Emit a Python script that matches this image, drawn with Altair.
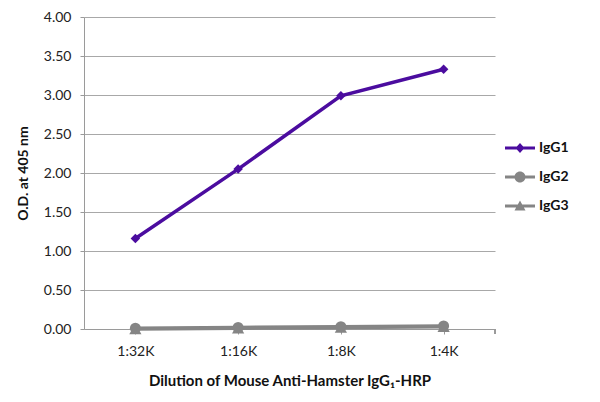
import altair as alt
import pandas as pd

dilutions = ["1:32K", "1:16K", "1:8K", "1:4K"]
series_names = ["IgG1", "IgG2", "IgG3"]
igg1 = [1.16, 2.05, 2.99, 3.33]
igg2 = [0.01, 0.02, 0.03, 0.04]
igg3 = [0.00, 0.01, 0.02, 0.03]
colors = ["#4b0c9f", "#858585", "#858585"]
shapes = ["diamond", "circle", "triangle-up"]

rows = []
for name, vals in zip(series_names, [igg1, igg2, igg3]):
    for d, v in zip(dilutions, vals):
        rows.append({"dilution": d, "od": v, "series": name, "legend": name})
df = pd.DataFrame(rows)
df["order"] = df["series"].map({"IgG1": 3, "IgG2": 2, "IgG3": 1})

FONT = "Lato"
AXIS_GREY = "#9a9a9a"

# legend symbols: a line segment with a marker in the middle
leg_paths = [
    "M-1.5,-0.14H1.5V0.14H-1.5Z M0,-0.5L0.45,0L0,0.5L-0.45,0Z",
    "M-1.5,-0.14H1.5V0.14H-1.5Z M0.55,0A0.55,0.55,0,1,1,-0.55,0A0.55,0.55,0,1,1,0.55,0Z",
    "M-1.5,-0.14H1.5V0.14H-1.5Z M0,-0.55L0.55,0.45L-0.55,0.45Z",
]

x_enc = alt.X(
    "dilution:N",
    sort=dilutions,
    scale=alt.Scale(domain=dilutions, paddingInner=0, paddingOuter=0),
    axis=alt.Axis(
        title="Dilution of Mouse Anti-Hamster IgG\u2081-HRP",
        titleFontSize=15,
        bandPosition=0,
        labelAngle=0,
        grid=False,
        tickSize=5,
        labelPadding=10,
        titlePadding=15,
        domainColor=AXIS_GREY,
        tickColor=AXIS_GREY,
    ),
)
y_enc = alt.Y(
    "od:Q",
    scale=alt.Scale(domain=[0, 4]),
    axis=alt.Axis(
        title="O.D. at 405 nm",
        values=[0, 0.5, 1, 1.5, 2, 2.5, 3, 3.5, 4],
        format=".2f",
        tickSize=4,
        labelPadding=9,
        titlePadding=13,
        gridColor="#a8a8a8",
        domainColor=AXIS_GREY,
        tickColor=AXIS_GREY,
    ),
)

color_scale = alt.Scale(domain=series_names, range=colors)

lines = alt.Chart(df).mark_line(strokeWidth=3.5).encode(
    x=x_enc,
    y=y_enc,
    color=alt.Color("series:N", scale=color_scale, legend=None),
    detail="series:N",
    order=alt.Order("order:Q"),
)

points = alt.Chart(df).mark_point(filled=True, opacity=1).encode(
    x=x_enc,
    y=y_enc,
    color=alt.Color("series:N", scale=color_scale, legend=None),
    shape=alt.Shape("series:N", scale=alt.Scale(domain=series_names, range=shapes), legend=None),
    size=alt.Size("series:N", scale=alt.Scale(domain=series_names, range=[90, 150, 110]), legend=None),
    order=alt.Order("order:Q"),
)

legend_layer = alt.Chart(df).mark_point(filled=True, size=0, opacity=1).encode(
    x=x_enc,
    y=y_enc,
    color=alt.Color(
        "legend:N",
        scale=alt.Scale(domain=series_names, range=colors),
        legend=alt.Legend(
            title=None,
            orient="none",
            legendX=426,
            legendY=121,
            symbolSize=400,
            symbolOpacity=1,
            symbolStrokeWidth=0,
            labelOffset=9,
            rowPadding=12,
            labelFont=FONT,
            labelFontSize=14,
            labelFontWeight="bold",
            labelColor="#111111",
        ),
    ),
    shape=alt.Shape(
        "legend:N",
        scale=alt.Scale(domain=series_names, range=leg_paths),
    ),
)

# closing tick at the right end of the category axis
end_tick = alt.Chart(df).mark_rule(color=AXIS_GREY, strokeWidth=1).encode(
    x=alt.value(411), y=alt.value(312), y2=alt.value(317)
)

chart = (
    alt.layer(end_tick, lines, points, legend_layer)
    .resolve_scale(color="independent", shape="independent")
    .properties(
        width=411,
        height=312,
        autosize=alt.AutoSizeParams(type="none"),
        padding={"left": 76, "top": 9, "right": 97, "bottom": 65},
        background="white",
    )
    .configure_view(stroke=None)
    .configure_axis(
        labelFont=FONT,
        labelFontSize=14,
        labelColor="#222222",
        titleFont=FONT,
        titleFontSize=14,
        titleFontWeight="bold",
        titleColor="#111111",
    )
)

chart.save("out.html", embed_options={"renderer": "svg", "actions": False})
